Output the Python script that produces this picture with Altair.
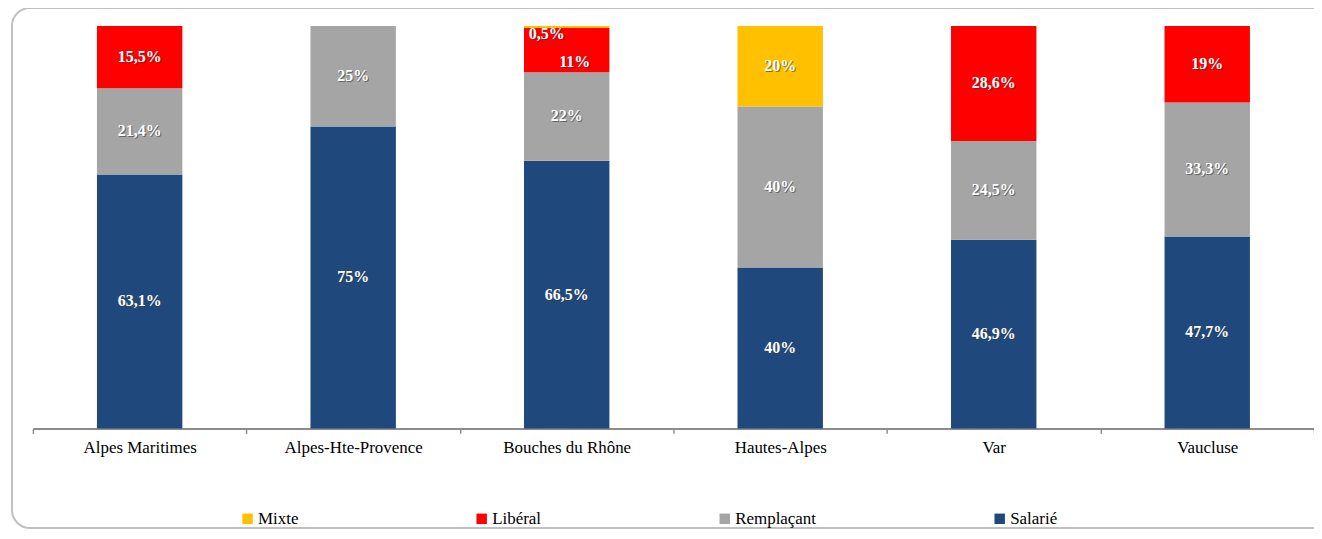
import altair as alt
import pandas as pd

regions = ["Alpes Maritimes", "Alpes-Hte-Provence", "Bouches du Rhône",
           "Hautes-Alpes", "Var", "Vaucluse"]
salarie = [63.1, 75, 66.5, 40, 46.9, 47.7]
remplacant = [21.4, 25, 22, 40, 24.5, 33.3]
liberal = [15.5, 0, 11, 0, 28.6, 19]
mixte = [0, 0, 0.5, 20, 0, 0]

series = ["Mixte", "Libéral", "Remplaçant", "Salarié"]
colors = ["#FFC000", "#FF0000", "#A5A5A5", "#1F497D"]
stack_order = {"Salarié": 0, "Remplaçant": 1, "Libéral": 2, "Mixte": 3}

rows = []
for name, vals in zip(["Salarié", "Remplaçant", "Libéral", "Mixte"],
                      [salarie, remplacant, liberal, mixte]):
    for r, v in zip(regions, vals):
        if v > 0:
            rows.append({"region": r, "serie": name, "value": v,
                         "ord": stack_order[name],
                         "label": f"{v:g}".replace(".", ",") + "%"})
df = pd.DataFrame(rows)

FONT = "Liberation Serif"

xscale = alt.Scale(paddingInner=0, paddingOuter=0)
xenc = alt.X("region:N", sort=regions, scale=xscale,
             axis=alt.Axis(title=None, labelAngle=0, domainColor="#8C8C8C",
                           domainWidth=2, tickColor="#8C8C8C", tickSize=5,
                           tickWidth=1.5, tickBand="extent", labelFont=FONT,
                           labelFontSize=17, labelColor="#000000",
                           labelPadding=6))

base = alt.Chart(df)

bars = base.mark_bar(width={"band": 0.4}).encode(
    x=xenc,
    y=alt.Y("value:Q", stack="zero",
            scale=alt.Scale(domain=[0, 100], nice=False), axis=None),
    color=alt.Color("serie:N",
                    scale=alt.Scale(domain=series, range=colors),
                    legend=alt.Legend(title=None, orient="none",
                                      legendX=207, legendY=486,
                                      direction="horizontal",
                                      columnPadding=175,
                                      symbolType="square", symbolSize=110,
                                      symbolStrokeWidth=0,
                                      labelFont=FONT, labelFontSize=17,
                                      labelColor="#000000", labelOffset=2)),
    order=alt.Order("ord:Q"),
)

stacked = base.transform_stack(
    stack="value", groupby=["region"], sort=[alt.SortField("ord")],
    as_=["y0", "y1"]
).transform_calculate(mid="(datum.y0 + datum.y1) / 2")


def text_layer(filt, dx, dy):
    enc = dict(x=alt.X("region:N", sort=regions, scale=xscale),
               y="mid:Q", text="label:N")
    shadow = stacked.transform_filter(filt).mark_text(
        font=FONT, fontSize=16, fontWeight="bold", color="#3a3a3a",
        opacity=0.6, dx=dx + 1, dy=dy + 1, baseline="middle"
    ).encode(**enc)
    front = stacked.transform_filter(filt).mark_text(
        font=FONT, fontSize=16, fontWeight="bold", color="#FFFFFF",
        dx=dx, dy=dy, baseline="middle"
    ).encode(**enc)
    return shadow + front


special_a = "datum.region == 'Bouches du Rhône' && datum.serie == 'Mixte'"
special_b = "datum.region == 'Bouches du Rhône' && datum.serie == 'Libéral'"
normal = f"!({special_a}) && !({special_b})"

texts = (text_layer(normal, 0, 0) + text_layer(special_a, -20, 7)
         + text_layer(special_b, 8, 12))

frame = alt.Chart(pd.DataFrame({"f": [0]})).mark_rect(
    fillOpacity=0, stroke="#C0C0C0", strokeWidth=2, cornerRadius=18
).encode(x=alt.value(-21), x2=alt.value(1500), y=alt.value(-18),
         y2=alt.value(504))

chart = alt.layer(frame, bars, texts).properties(
    width=1286, height=404,
    background="#FFFFFF",
    autosize=alt.AutoSizeParams(type="none"),
    padding={"left": 25, "top": 17, "right": 0, "bottom": 102},
).configure_view(strokeWidth=0, stroke="transparent")

chart.save("out.html", embed_options={"renderer": "svg", "actions": False})
